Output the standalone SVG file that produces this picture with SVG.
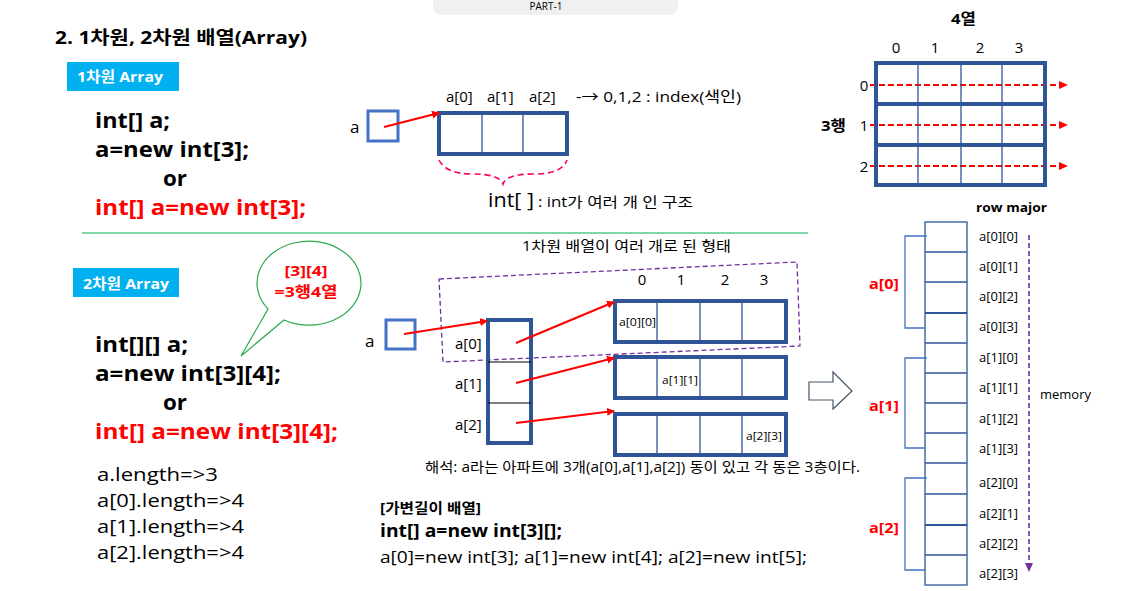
<svg xmlns="http://www.w3.org/2000/svg" width="1126" height="591" viewBox="0 0 1126 591">
<style>
text{font-family:"Open Sans","Noto Sans CJK KR",sans-serif;fill:#000}
.b{font-weight:bold}
.red{fill:#ff0000}
.code{font-size:21px;font-weight:bold}
.len{font-size:19px}
.lbl{font-size:15px}
.sm{font-size:11px}
.mem{font-size:13px}
.arr{fill:none;stroke:#2f5597;stroke-width:4}
.cell{stroke:#2f5597;stroke-width:1.3}
.ptr{fill:none;stroke:#4472c4;stroke-width:3}
.ra{stroke:#ff0000;stroke-width:2;fill:none;marker-end:url(#rh)}
.rd{stroke:#ff0000;stroke-width:2;stroke-dasharray:6 3;fill:none;marker-end:url(#rh2)}
.brk{fill:none;stroke:#4472c4;stroke-width:1.3}
.tag{fill:#00b0f0}
.tagt{fill:#fff;font-weight:bold;font-size:15px}
</style>
<defs>
<marker id="rh" markerWidth="8" markerHeight="8" refX="7" refY="4" orient="auto" markerUnits="userSpaceOnUse"><path d="M0,0 L8,4 L0,8 z" fill="#ff0000"/></marker>
<marker id="rh2" markerWidth="9" markerHeight="8" refX="8" refY="4" orient="auto" markerUnits="userSpaceOnUse"><path d="M0,0 L9,4 L0,8 z" fill="#ff0000"/></marker>
<marker id="ph" markerWidth="9" markerHeight="8" refX="8" refY="4" orient="auto" markerUnits="userSpaceOnUse"><path d="M0,0 L9,4 L0,8 z" fill="#7030a0"/></marker>
</defs>

<g id="tab">
<rect x="433" y="-10" width="245" height="25" rx="8" fill="#f0f0f0"/>
<text x="546" y="10" font-size="10" text-anchor="middle" fill="#333">PART-1</text>
</g>

<g id="title"><text x="55" y="44" font-size="18" class="b" textLength="252" lengthAdjust="spacingAndGlyphs">2. 1차원, 2차원 배열(Array)</text></g>

<g id="tag1"><rect class="tag" x="67" y="62" width="112" height="29"/><text class="tagt" x="77" y="82" textLength="86" lengthAdjust="spacingAndGlyphs">1차원 Array</text></g>

<g id="code1">
<text class="code" x="95" y="128" textLength="75" lengthAdjust="spacingAndGlyphs">int[] a;</text>
<text class="code" x="95" y="157" textLength="154" lengthAdjust="spacingAndGlyphs">a=new int[3];</text>
<text class="code" x="163" y="186" textLength="24" lengthAdjust="spacingAndGlyphs">or</text>
<text class="code red" x="95" y="215" textLength="211" lengthAdjust="spacingAndGlyphs">int[] a=new int[3];</text>
</g>

<g id="ptr1"><text x="350" y="133" font-size="17">a</text><rect class="ptr" x="368" y="111" width="30" height="30"/></g>

<g id="array1">
<rect class="arr" x="439" y="113" width="128" height="41"/>
<line class="cell" x1="482" y1="113" x2="482" y2="154"/>
<line class="cell" x1="523" y1="113" x2="523" y2="154"/>
<text class="lbl" x="446" y="102">a[0]</text>
<text class="lbl" x="487" y="102">a[1]</text>
<text class="lbl" x="529" y="102">a[2]</text>
<text class="lbl" x="576" y="102" textLength="165" lengthAdjust="spacingAndGlyphs">-→ 0,1,2 : index(색인)</text>
</g>

<g id="brace1">
<path d="M439,160 Q446,174 472,174 Q500,174 503,184 Q506,174 534,174 Q562,174 567,160" fill="none" stroke="#ff0066" stroke-width="1.6" stroke-dasharray="6 4"/>
<text x="488" y="207" font-size="20" textLength="46" lengthAdjust="spacingAndGlyphs">int[ ]</text>
<text x="538" y="207" font-size="14" textLength="155" lengthAdjust="spacingAndGlyphs">: int가 여러 개 인 구조</text>
</g>

<g id="divider"><line x1="82" y1="233" x2="808" y2="233" stroke="#00b050" stroke-width="1.2"/></g>

<g id="tag2"><rect class="tag" x="73" y="268" width="106" height="29"/><text class="tagt" x="83" y="289" textLength="86" lengthAdjust="spacingAndGlyphs">2차원 Array</text></g>

<g id="bubble">
<path d="M268,309 A52,42 0 1 1 284,320 L241,356 Z" fill="#fff" stroke="#2ea84f" stroke-width="1.2"/>
<text x="306" y="276" font-size="15" class="b red" text-anchor="middle" textLength="43" lengthAdjust="spacingAndGlyphs">[3][4]</text>
<text x="306" y="297" font-size="15" class="b red" text-anchor="middle" textLength="63" lengthAdjust="spacingAndGlyphs">=3행4열</text>
</g>

<g id="code2">
<text class="code" x="95" y="352" textLength="93" lengthAdjust="spacingAndGlyphs">int[][] a;</text>
<text class="code" x="95" y="381" textLength="186" lengthAdjust="spacingAndGlyphs">a=new int[3][4];</text>
<text class="code" x="163" y="410" textLength="24" lengthAdjust="spacingAndGlyphs">or</text>
<text class="code red" x="95" y="439" textLength="243" lengthAdjust="spacingAndGlyphs">int[] a=new int[3][4];</text>
</g>

<g id="lengths">
<text class="len" x="97" y="481" textLength="121" lengthAdjust="spacingAndGlyphs">a.length=&gt;3</text>
<text class="len" x="97" y="507" textLength="147" lengthAdjust="spacingAndGlyphs">a[0].length=&gt;4</text>
<text class="len" x="97" y="533" textLength="147" lengthAdjust="spacingAndGlyphs">a[1].length=&gt;4</text>
<text class="len" x="97" y="559" textLength="147" lengthAdjust="spacingAndGlyphs">a[2].length=&gt;4</text>
</g>

<g id="caption2"><text x="522" y="251" font-size="14" textLength="209" lengthAdjust="spacingAndGlyphs">1차원 배열이 여러 개로 된 형태</text></g>

<g id="group-box"><path d="M439,279 L797,262 L800,346 L443,362 Z" fill="none" stroke="#7030a0" stroke-width="1.3" stroke-dasharray="5 3"/></g>

<g id="ptr2"><text x="365" y="347" font-size="17">a</text><rect class="ptr" x="386" y="320" width="29" height="29"/></g>

<g id="column">
<rect class="arr" x="488" y="320" width="43" height="123"/>
<line x1="488" y1="362" x2="531" y2="362" stroke="#000" stroke-width="1.2"/>
<line x1="488" y1="403" x2="531" y2="403" stroke="#000" stroke-width="1.2"/>
<text class="lbl" x="455" y="349">a[0]</text>
<text class="lbl" x="455" y="389">a[1]</text>
<text class="lbl" x="455" y="430">a[2]</text>
</g>

<g id="colnums2">
<text class="lbl" x="642" y="285" text-anchor="middle">0</text>
<text class="lbl" x="681" y="285" text-anchor="middle">1</text>
<text class="lbl" x="725" y="285" text-anchor="middle">2</text>
<text class="lbl" x="764" y="285" text-anchor="middle">3</text>
</g>

<g id="row0">
<rect class="arr" x="615" y="301" width="171" height="41"/>
<line class="cell" x1="657" y1="301" x2="657" y2="342"/><line class="cell" x1="700" y1="301" x2="700" y2="342"/><line class="cell" x1="742" y1="301" x2="742" y2="342"/>
<text class="sm" x="619" y="326" textLength="37" lengthAdjust="spacingAndGlyphs">a[0][0]</text>
</g>
<g id="row1">
<rect class="arr" x="615" y="357" width="171" height="41"/>
<line class="cell" x1="657" y1="357" x2="657" y2="398"/><line class="cell" x1="700" y1="357" x2="700" y2="398"/><line class="cell" x1="742" y1="357" x2="742" y2="398"/>
<text class="sm" x="662" y="384" textLength="36" lengthAdjust="spacingAndGlyphs">a[1][1]</text>
</g>
<g id="row2">
<rect class="arr" x="615" y="414" width="171" height="41"/>
<line class="cell" x1="657" y1="414" x2="657" y2="455"/><line class="cell" x1="700" y1="414" x2="700" y2="455"/><line class="cell" x1="742" y1="414" x2="742" y2="455"/>
<text class="sm" x="746" y="440" textLength="36" lengthAdjust="spacingAndGlyphs">a[2][3]</text>
</g>

<g id="connectors">
<line class="ra" x1="384" y1="127" x2="439" y2="113"/>
<line class="ra" x1="404" y1="334" x2="487" y2="321"/>
<line class="ra" x1="516" y1="343" x2="614" y2="302"/>
<line class="ra" x1="516" y1="383" x2="614" y2="358"/>
<line class="ra" x1="516" y1="423" x2="614" y2="411"/>
<line class="rd" x1="870" y1="85" x2="1067" y2="85"/>
<line class="rd" x1="870" y1="125" x2="1067" y2="125"/>
<line class="rd" x1="870" y1="166" x2="1067" y2="166"/>
<line x1="1029" y1="235" x2="1029" y2="571" stroke="#7030a0" stroke-width="1.6" stroke-dasharray="5 3" marker-end="url(#ph)"/>
</g>

<g id="note"><text x="425" y="472" font-size="14" textLength="435" lengthAdjust="spacingAndGlyphs">해석: a라는 아파트에 3개(a[0],a[1],a[2]) 동이 있고 각 동은 3층이다.</text></g>

<g id="jagged">
<text x="380" y="513" font-size="14" class="b" textLength="101" lengthAdjust="spacingAndGlyphs">[가변길이 배열]</text>
<text x="380" y="537" font-size="17" class="b" textLength="182" lengthAdjust="spacingAndGlyphs">int[] a=new int[3][];</text>
<text x="380" y="563" font-size="16" textLength="427" lengthAdjust="spacingAndGlyphs">a[0]=new int[3]; a[1]=new int[4]; a[2]=new int[5];</text>
</g>

<g id="grid">
<text x="951" y="24" font-size="15" class="b" textLength="25" lengthAdjust="spacingAndGlyphs">4열</text>
<text class="lbl" x="896" y="53" text-anchor="middle">0</text>
<text class="lbl" x="935" y="53" text-anchor="middle">1</text>
<text class="lbl" x="980" y="53" text-anchor="middle">2</text>
<text class="lbl" x="1019" y="53" text-anchor="middle">3</text>
<rect class="arr" x="876" y="63" width="169" height="122"/>
<line x1="876" y1="104" x2="1045" y2="104" stroke="#2f5597" stroke-width="4"/>
<line x1="876" y1="145" x2="1045" y2="145" stroke="#2f5597" stroke-width="4"/>
<line class="cell" x1="918" y1="63" x2="918" y2="185"/>
<line class="cell" x1="961" y1="63" x2="961" y2="185"/>
<line class="cell" x1="1002" y1="63" x2="1002" y2="185"/>
<text class="lbl" x="864" y="91" text-anchor="middle">0</text>
<text class="lbl" x="864" y="131" text-anchor="middle">1</text>
<text class="lbl" x="864" y="172" text-anchor="middle">2</text>
<text x="821" y="131" font-size="15" class="b" textLength="25" lengthAdjust="spacingAndGlyphs">3행</text>
<text x="976" y="212" font-size="13" class="b" textLength="71" lengthAdjust="spacingAndGlyphs">row major</text>
</g>

<g id="memory">
<rect x="925" y="222" width="42" height="363" fill="none" stroke="#2f5597" stroke-width="1.3"/>
<g stroke="#2f5597" stroke-width="1.3">
<line x1="925" y1="252" x2="967" y2="252"/><line x1="925" y1="282" x2="967" y2="282"/>
<line x1="925" y1="313" x2="967" y2="313" stroke-width="2.2"/><line x1="925" y1="343" x2="967" y2="343"/>
<line x1="925" y1="373" x2="967" y2="373"/><line x1="925" y1="403" x2="967" y2="403"/>
<line x1="925" y1="433" x2="967" y2="433"/><line x1="925" y1="463" x2="967" y2="463"/>
<line x1="925" y1="494" x2="967" y2="494"/><line x1="925" y1="525" x2="967" y2="525" stroke-width="2.2"/>
<line x1="925" y1="555" x2="967" y2="555"/>
</g>
<text class="mem" x="979" y="241">a[0][0]</text>
<text class="mem" x="979" y="271">a[0][1]</text>
<text class="mem" x="979" y="301">a[0][2]</text>
<text class="mem" x="979" y="331">a[0][3]</text>
<text class="mem" x="979" y="362">a[1][0]</text>
<text class="mem" x="979" y="392">a[1][1]</text>
<text class="mem" x="979" y="423">a[1][2]</text>
<text class="mem" x="979" y="453">a[1][3]</text>
<text class="mem" x="979" y="487">a[2][0]</text>
<text class="mem" x="979" y="518">a[2][1]</text>
<text class="mem" x="979" y="548">a[2][2]</text>
<text class="mem" x="979" y="578">a[2][3]</text>
<text class="mem" x="1040" y="399">memory</text>
</g>

<g id="brackets">
<path class="brk" d="M927,236 H905 V328 H925"/>
<path class="brk" d="M927,358 H905 V448 H925"/>
<path class="brk" d="M927,478 H905 V570 H925"/>
<text x="869" y="289" font-size="15" class="b red" textLength="30" lengthAdjust="spacingAndGlyphs">a[0]</text>
<text x="869" y="411" font-size="15" class="b red" textLength="30" lengthAdjust="spacingAndGlyphs">a[1]</text>
<text x="869" y="533" font-size="15" class="b red" textLength="30" lengthAdjust="spacingAndGlyphs">a[2]</text>
</g>

<g id="bigarrow"><path d="M809,382 H833 V372 L852,391 L833,409 V400 H809 Z" fill="#fff" stroke="#44546a" stroke-width="1.2"/></g>
</svg>
